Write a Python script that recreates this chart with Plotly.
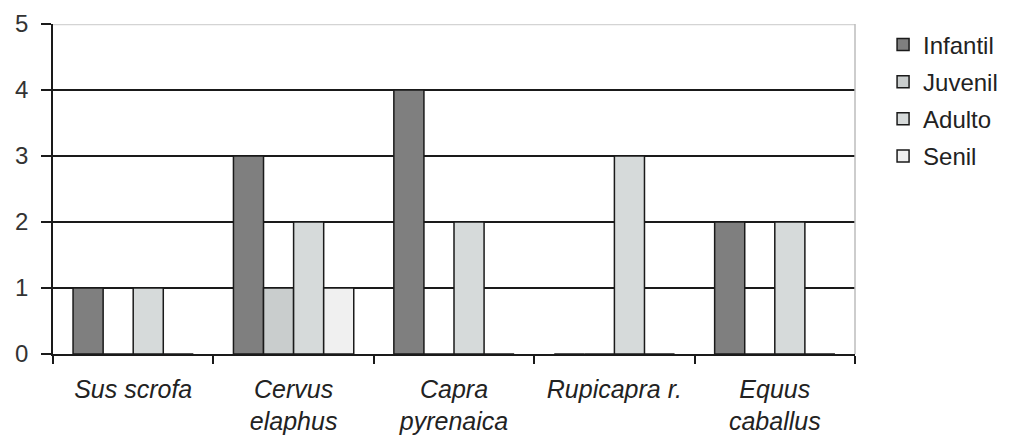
import plotly.graph_objects as go

categories = ["Sus scrofa", "Cervus<br>elaphus", "Capra<br>pyrenaica", "Rupicapra r.", "Equus<br>caballus"]
infantil = [1, 3, 4, 0, 2]
juvenil = [0, 1, 0, 0, 0]
adulto = [1, 2, 2, 3, 2]
senil = [0, 1, 0, 0, 0]
series = [("Infantil", infantil, "#7f7f7f"),
          ("Juvenil", juvenil, "#c9cdcd"),
          ("Adulto", adulto, "#d6dada"),
          ("Senil", senil, "#f0f0f0")]
y_ticks = [0, 1, 2, 3, 4, 5]

fig = go.Figure()
for name, vals, col in series:
    fig.add_trace(go.Bar(x=categories, y=vals, name=name, legendgroup=name,
                         marker=dict(color=col, line=dict(color="#1a1a1a", width=1.5))))

fig.update_layout(
    width=1007, height=436,
    margin=dict(l=45, r=160, t=16, b=90, autoexpand=False),
    paper_bgcolor="white", plot_bgcolor="white",
    font=dict(family="Liberation Sans, Arial, sans-serif", color="#222"),
    barmode="group", bargap=0.25, bargroupgap=0,
    showlegend=True,
    legend=dict(x=1.035, xanchor="left", y=1.005, yanchor="top", font=dict(size=24, color="#222"),
                tracegroupgap=3, bgcolor="rgba(0,0,0,0)"),
    xaxis=dict(type="category", tickson="boundaries", ticks="outside", ticklen=8, tickwidth=1.5,
               tickcolor="#1a1a1a", showline=True, linecolor="#1a1a1a", linewidth=1.5,
               ticklabelstandoff=12, automargin=False,
               tickfont=dict(size=25, color="#222", style="italic"), showgrid=False),
    yaxis=dict(range=[0, 5], tickvals=y_ticks, ticks="outside", ticklen=10, tickwidth=1.5,
               tickcolor="#1a1a1a", showline=True, linecolor="#1a1a1a", linewidth=1.5,
               ticklabelstandoff=8, automargin=False,
               showgrid=True, gridcolor="#1a1a1a", gridwidth=1.5, zeroline=False,
               tickfont=dict(size=24, color="#333")),
)
fig.add_shape(type="line", xref="paper", yref="y", x0=0, x1=1, y0=5, y1=5,
              line=dict(color="#d4d4d4", width=2.5), layer="above")
fig.add_shape(type="line", xref="paper", yref="paper", x0=1, x1=1, y0=0, y1=1,
              line=dict(color="#bdbdbd", width=1.5), layer="above")

fig.write_html("out.html")
